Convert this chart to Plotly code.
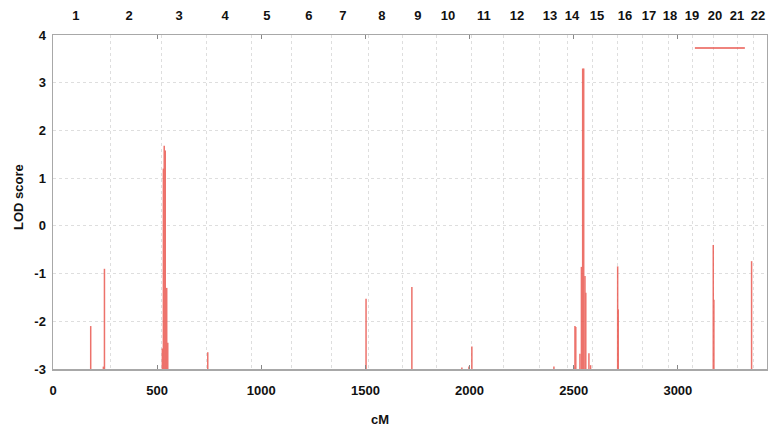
import plotly.graph_objects as go

# ---- data ----
peak_cm = [181, 242, 247, 525, 530, 534, 539, 546, 551, 743, 1503, 1723, 1963, 1997, 2011,
           2405, 2501, 2506, 2510, 2530, 2537, 2543, 2548, 2554, 2558, 2573, 2581,
           2711, 2714, 3170, 3173, 3354]
peak_lod = [-2.1, -2.95, -0.9, -2.57, 1.2, 1.68, 1.58, -1.3, -2.45, -2.65, -1.53, -1.28, -2.97, -2.95, -2.53,
            -2.95, -2.95, -2.1, -2.12, -2.68, -0.86, 3.3, 3.3, -1.05, -1.4, -2.67, -2.92,
            -0.85, -1.75, -0.4, -1.55, -0.74]
baseline = -3

chrom_labels = [str(i) for i in range(1, 23)]
chrom_label_pos = [110, 365, 605, 826, 1027, 1229, 1392, 1579, 1752, 1896, 2069, 2228, 2386, 2492,
                   2612, 2746, 2861, 2962, 3068, 3178, 3284, 3385]
chrom_bounds = [274, 523, 739, 951, 1147, 1335, 1517, 1680, 1839, 2011, 2165, 2338, 2468, 2588,
                2712, 2832, 2957, 3072, 3173, 3284, 3361]
x_ticks = [0, 500, 1000, 1500, 2000, 2500, 3000]
y_ticks = [-3, -2, -1, 0, 1, 2, 3, 4]

X_MAX = 3428
RED = "#ea5a52"
FONT = "Liberation Sans"
TXT = "#111"

xs, ys = [], []
for c, v in zip(peak_cm, peak_lod):
    xs += [c, c, None]
    ys += [baseline, v, None]

fig = go.Figure()
fig.add_trace(go.Scatter(x=xs, y=ys, mode="lines", line=dict(color=RED, width=1.5),
                         opacity=0.85, showlegend=False, hoverinfo="skip"))
# invisible anchors for overlay axes
fig.add_trace(go.Scatter(x=[0, X_MAX], y=[baseline, baseline], xaxis="x2", mode="markers",
                         marker=dict(opacity=0), showlegend=False, hoverinfo="skip"))
fig.add_trace(go.Scatter(x=[0, X_MAX], y=[baseline, baseline], xaxis="x3", mode="markers",
                         marker=dict(opacity=0), showlegend=False, hoverinfo="skip"))

# legend key line (no label)
fig.add_shape(type="line", xref="paper", yref="paper", x0=0.899, x1=0.969, y0=0.961, y1=0.961,
              line=dict(color=RED, width=1.5))

# axis titles
fig.add_annotation(text="<b>cM</b>", xref="paper", yref="paper", x=0.458, y=-0.15,
                   showarrow=False, font=dict(family=FONT, size=13, color=TXT),
                   xanchor="center", yanchor="middle")
fig.add_annotation(text="<b>LOD score</b>", xref="paper", yref="paper", x=-0.0476, y=0.515,
                   showarrow=False, textangle=-90, font=dict(family=FONT, size=13, color=TXT),
                   xanchor="center", yanchor="middle")

tickfont = dict(family=FONT, size=13, color=TXT, weight="bold")
GRID = "#dedede"
fig.update_layout(
    width=768, height=428,
    margin=dict(l=53, r=1, t=35, b=59),
    paper_bgcolor="white", plot_bgcolor="white",
    showlegend=False,
    xaxis=dict(range=[0, X_MAX], tickvals=x_ticks, ticktext=[str(t) for t in x_ticks],
               ticks="inside", ticklen=4, tickcolor="#888", showgrid=False, zeroline=False,
               showline=True, linecolor="#a8a8a8", linewidth=1.5, mirror="ticks",
               tickfont=tickfont, automargin=False, ticklabelstandoff=9),
    xaxis2=dict(range=[0, X_MAX], overlaying="x", side="top", tickvals=chrom_label_pos,
                ticktext=chrom_labels, ticks="", showgrid=False, zeroline=False, showline=False,
                tickfont=tickfont, automargin=False, ticklabelstandoff=11),
    xaxis3=dict(range=[0, X_MAX], overlaying="x", side="bottom", tickvals=chrom_bounds,
                showticklabels=False, ticks="", showgrid=True, gridcolor=GRID,
                griddash="dot", gridwidth=1, zeroline=False, showline=False, automargin=False),
    yaxis=dict(range=[-3, 4], tickvals=y_ticks, ticktext=[str(t) for t in y_ticks],
               showgrid=True, gridcolor=GRID, griddash="dot", gridwidth=1,
               zeroline=False, showline=True, linecolor="#a8a8a8", linewidth=1.5, mirror=True,
               ticks="", tickfont=tickfont, automargin=False, ticklabelstandoff=3),
    font=dict(family=FONT, size=13, color=TXT),
)

fig.write_html("out.html", config={"displayModeBar": False, "staticPlot": True},
               post_script="document.body.style.margin='0';document.body.style.overflow='hidden';")
